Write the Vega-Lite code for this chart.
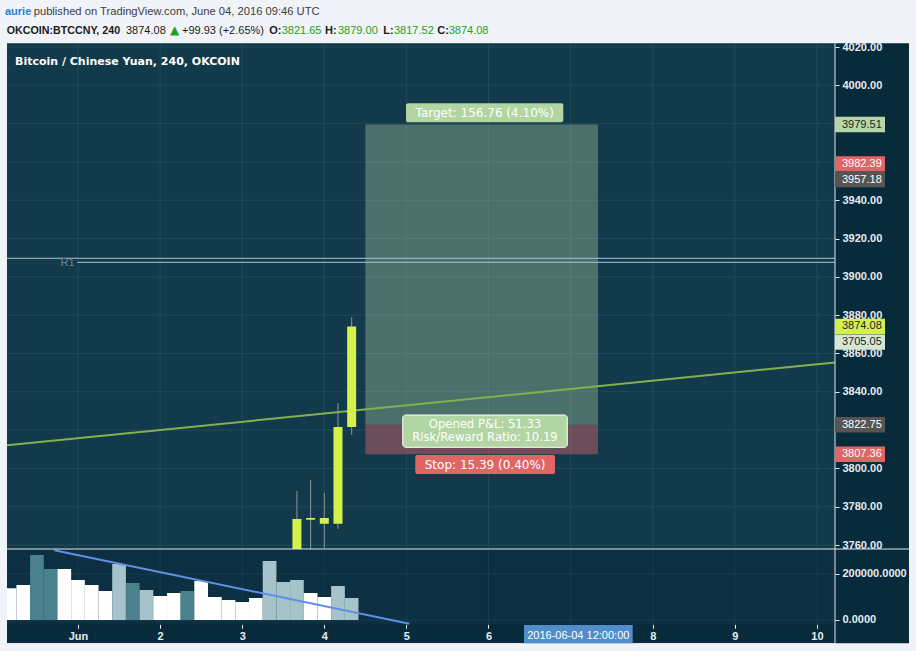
{
  "$schema": "https://vega.github.io/schema/vega-lite/v6.json",
  "width": 916,
  "height": 651,
  "padding": 0,
  "autosize": {"type": "none"},
  "background": "#f0f3f8",
  "config": {
    "view": {"stroke": null, "fill": "#082b3c"},
    "scale": {"continuousPadding": 0},
    "axis": {"titleOpacity": 0}
  },
  "datasets": {
    "candles": [
      {"t": 3.6667, "open": 3748.0, "high": 3788.2, "low": 3742.0, "close": 3773.6},
      {"t": 3.8333, "open": 3773.2, "high": 3794.0, "low": 3752.0, "close": 3774.1},
      {"t": 4.0, "open": 3774.1, "high": 3787.2, "low": 3758.6, "close": 3771.1},
      {"t": 4.1667, "open": 3771.1, "high": 3834.1, "low": 3768.4, "close": 3821.65},
      {"t": 4.3333, "open": 3821.65, "high": 3879.0, "low": 3817.52, "close": 3874.08}
    ],
    "volume": [
      {"t": 0.1667, "vol": 137700, "kind": "w"},
      {"t": 0.3333, "vol": 152200, "kind": "w"},
      {"t": 0.5, "vol": 282600, "kind": "d"},
      {"t": 0.6667, "vol": 221700, "kind": "d"},
      {"t": 0.8333, "vol": 221700, "kind": "w"},
      {"t": 1.0, "vol": 173900, "kind": "w"},
      {"t": 1.1667, "vol": 152200, "kind": "w"},
      {"t": 1.3333, "vol": 126100, "kind": "w"},
      {"t": 1.5, "vol": 243500, "kind": "l"},
      {"t": 1.6667, "vol": 160900, "kind": "d"},
      {"t": 1.8333, "vol": 130400, "kind": "l"},
      {"t": 2.0, "vol": 104300, "kind": "w"},
      {"t": 2.1667, "vol": 117400, "kind": "w"},
      {"t": 2.3333, "vol": 126100, "kind": "d"},
      {"t": 2.5, "vol": 169600, "kind": "w"},
      {"t": 2.6667, "vol": 100000, "kind": "w"},
      {"t": 2.8333, "vol": 87000, "kind": "w"},
      {"t": 3.0, "vol": 78300, "kind": "w"},
      {"t": 3.1667, "vol": 95700, "kind": "w"},
      {"t": 3.3333, "vol": 256500, "kind": "l"},
      {"t": 3.5, "vol": 165200, "kind": "l"},
      {"t": 3.6667, "vol": 173900, "kind": "l"},
      {"t": 3.8333, "vol": 117400, "kind": "w"},
      {"t": 4.0, "vol": 100000, "kind": "w"},
      {"t": 4.1667, "vol": 147800, "kind": "l"},
      {"t": 4.3333, "vol": 95700, "kind": "l"}
    ],
    "days": [{"d": 1}, {"d": 2}, {"d": 3}, {"d": 4}, {"d": 5}, {"d": 6}, {"d": 7}, {"d": 8}, {"d": 9}, {"d": 10}],
    "pgrid": [{"p": 3760}, {"p": 3780}, {"p": 3800}, {"p": 3820}, {"p": 3840}, {"p": 3860}, {"p": 3880}, {"p": 3900}, {"p": 3920}, {"p": 3940}, {"p": 3960}, {"p": 3980}, {"p": 4000}, {"p": 4020}],
    "vgrid": [{"v": 0}, {"v": 200000}],
    "position": [{"start": 4.5, "end": 7.3333, "entry": 3822.75, "target": 3979.51, "stop": 3807.36}],
    "pivots": [{"start": 0.1352, "level": 3909.7}, {"start": 0.9915, "level": 3907.6}],
    "trend": [{"t": 0.1352, "p": 3812.05}, {"t": 10.2205, "p": 3855.28}],
    "vtrend": [{"t": 0.7113, "v": 303043}, {"t": 5.0353, "v": -16087}],
    "tags": [
      {"price": 3979.51, "kind": "target", "label": "3979.51"},
      {"price": 3874.08, "kind": "last", "label": "3874.08"},
      {"price": 3822.75, "kind": "entry", "label": "3822.75"},
      {"price": 3807.36, "kind": "stop", "label": "3807.36"}
    ]
  },
  "resolve": {"scale": {"y": "independent"}, "axis": {"y": "independent"}},
  "layer": [
    {
      "layer": [
        {
          "data": {"values": [{}]},
          "mark": {"type": "rect", "fill": "#133a4a"},
          "encoding": {
            "x": {"datum": 0.1352, "type": "quantitative", "scale": {"domain": [0.04994, 11.2071], "nice": false, "zero": false, "padding": 0}},
            "x2": {"datum": 10.2205},
            "y": {"datum": 4021.93, "type": "quantitative", "scale": {"domain": [3704.66, 4044.54], "nice": false, "zero": false, "padding": 0}},
            "y2": {"datum": 3757.91}
          }
        },
        {
          "data": {"name": "pgrid"},
          "mark": {"type": "rule", "stroke": "#1f4a5b", "strokeWidth": 1},
          "encoding": {
            "x": {"datum": 0.1352, "type": "quantitative"},
            "x2": {"datum": 10.2205},
            "y": {"field": "p", "type": "quantitative", "scale": {"domain": [3704.66, 4044.54], "nice": false, "zero": false, "padding": 0},
              "axis": {"orient": "right", "offset": -81, "values": [3760, 3780, 3800, 3840, 3860, 3880, 3900, 3920, 3940, 3960, 3980, 4000, 4020], "format": ".2f", "title": null, "domain": false, "grid": false, "ticks": true, "tickSize": 4, "tickColor": "#e6ebee", "labelPadding": 3, "labelColor": "#e6ebee", "labelFont": "Liberation Sans", "labelFontSize": 11, "labelFontWeight": "bold", "labelOverlap": false, "labelFlush": false, "labelBound": false}}
          }
        },
        {
          "data": {"name": "days"},
          "mark": {"type": "rule", "stroke": "#1f4a5b", "strokeWidth": 1},
          "encoding": {
            "x": {"field": "d", "type": "quantitative"},
            "y": {"datum": 4021.93, "type": "quantitative"},
            "y2": {"datum": 3757.91}
          }
        },
        {
          "data": {"name": "position"},
          "mark": {"type": "rect", "fill": "#9fc49d", "opacity": 0.4},
          "encoding": {
            "x": {"field": "start", "type": "quantitative"},
            "x2": {"field": "end"},
            "y": {"field": "entry", "type": "quantitative"},
            "y2": {"field": "target"}
          }
        },
        {
          "data": {"name": "position"},
          "mark": {"type": "rect", "fill": "#ef6a70", "opacity": 0.4},
          "encoding": {
            "x": {"field": "start", "type": "quantitative"},
            "x2": {"field": "end"},
            "y": {"field": "stop", "type": "quantitative"},
            "y2": {"field": "entry"}
          }
        },
        {
          "data": {"name": "pivots"},
          "mark": {"type": "rule", "stroke": "#a9c8da", "strokeWidth": 1},
          "encoding": {
            "x": {"field": "start", "type": "quantitative"},
            "x2": {"datum": 10.2205},
            "y": {"field": "level", "type": "quantitative"}
          }
        },
        {
          "data": {"values": [{"label": "R1"}]},
          "mark": {"type": "text", "font": "Liberation Sans", "fontSize": 11, "fill": "#6c8797", "align": "right", "baseline": "middle"},
          "encoding": {
            "x": {"datum": 0.9574, "type": "quantitative"},
            "y": {"datum": 3907.0, "type": "quantitative"},
            "text": {"field": "label"}
          }
        },
        {
          "data": {"name": "trend"},
          "mark": {"type": "line", "stroke": "#7fb24e", "strokeWidth": 2},
          "encoding": {
            "x": {"field": "t", "type": "quantitative"},
            "y": {"field": "p", "type": "quantitative"}
          }
        },
        {
          "data": {"name": "candles"},
          "mark": {"type": "rule", "stroke": "#8a959b", "strokeWidth": 1},
          "encoding": {
            "x": {"field": "t", "type": "quantitative"},
            "y": {"field": "low", "type": "quantitative"},
            "y2": {"field": "high"}
          }
        },
        {
          "data": {"name": "candles"},
          "mark": {"type": "bar", "fill": "#d6f04b", "size": 9, "orient": "vertical"},
          "encoding": {
            "x": {"field": "t", "type": "quantitative"},
            "y": {"field": "open", "type": "quantitative", "stack": null},
            "y2": {"field": "close"}
          }
        },
        {
          "data": {"values": [{"label": "Bitcoin / Chinese Yuan, 240, OKCOIN"}]},
          "mark": {"type": "text", "font": "DejaVu Sans", "fontWeight": "bold", "fontSize": 11, "fill": "#ffffff", "align": "left", "baseline": "alphabetic"},
          "encoding": {
            "x": {"datum": 0.2327, "type": "quantitative"},
            "y": {"datum": 4010.76, "type": "quantitative"},
            "text": {"field": "label"}
          }
        }
      ]
    },
    {
      "layer": [
        {
          "data": {"values": [{}]},
          "mark": {"type": "rect", "fill": "#0c2f41"},
          "encoding": {
            "x": {"datum": 0.1352, "type": "quantitative", "scale": {"domain": [0.04994, 11.2071], "nice": false, "zero": false, "padding": 0}},
            "x2": {"datum": 10.2205},
            "y": {"datum": 308696, "type": "quantitative", "scale": {"domain": [-134783, 2695652], "nice": false, "zero": false, "padding": 0}},
            "y2": {"datum": -18696}
          }
        },
        {
          "data": {"name": "vgrid"},
          "mark": {"type": "rule", "stroke": "#163e4f", "strokeWidth": 1},
          "encoding": {
            "x": {"datum": 0.1352, "type": "quantitative"},
            "x2": {"datum": 10.2205},
            "y": {"field": "v", "type": "quantitative", "scale": {"domain": [-134783, 2695652], "nice": false, "zero": false, "padding": 0},
              "axis": {"orient": "right", "offset": -81, "values": [0, 200000], "format": ".4f", "title": null, "domain": false, "grid": false, "ticks": true, "tickSize": 4, "tickColor": "#e6ebee", "labelPadding": 3, "labelColor": "#e6ebee", "labelFont": "Liberation Sans", "labelFontSize": 11, "labelFontWeight": "bold", "labelOverlap": false, "labelFlush": false, "labelBound": false}}
          }
        },
        {
          "data": {"name": "days"},
          "mark": {"type": "rule", "stroke": "#163e4f", "strokeWidth": 1},
          "encoding": {
            "x": {"field": "d", "type": "quantitative", "scale": {"domain": [0.04994, 11.2071], "nice": false, "zero": false, "padding": 0},
              "axis": {"orient": "bottom", "offset": -26.7, "values": [1, 2, 3, 4, 5, 6, 8, 9, 10], "format": "d", "labelExpr": "datum.value == 1 ? 'Jun' : datum.label", "title": null, "domain": false, "grid": false, "ticks": true, "tickSize": 4, "tickColor": "#e6ebee", "labelPadding": 2, "labelColor": "#e6ebee", "labelFont": "Liberation Sans", "labelFontSize": 11, "labelFontWeight": "bold", "labelOverlap": false, "labelFlush": false, "labelBound": false}},
            "y": {"datum": 308696, "type": "quantitative"},
            "y2": {"datum": -18696}
          }
        },
        {
          "data": {"name": "volume"},
          "mark": {"type": "bar", "size": 13.7, "orient": "vertical"},
          "encoding": {
            "x": {"field": "t", "type": "quantitative"},
            "y": {"field": "vol", "type": "quantitative", "stack": null},
            "y2": {"datum": 0},
            "color": {"field": "kind", "type": "nominal", "scale": {"domain": ["w", "d", "l"], "range": ["#ffffff", "#4a818d", "#a5c3c8"]}, "legend": null}
          }
        },
        {
          "data": {"name": "vtrend"},
          "mark": {"type": "line", "stroke": "#5f8fe8", "strokeWidth": 2},
          "encoding": {
            "x": {"field": "t", "type": "quantitative"},
            "y": {"field": "v", "type": "quantitative"}
          }
        }
      ]
    },
    {
      "layer": [
        {
          "data": {"values": [{}]},
          "mark": {"type": "rect", "fill": "#f0f3f8"},
          "encoding": {
            "x": {"datum": 0.04994, "type": "quantitative", "scale": {"domain": [0.04994, 11.2071], "nice": false, "zero": false, "padding": 0}},
            "x2": {"datum": 11.2071},
            "y": {"datum": 4044.54, "type": "quantitative", "scale": {"domain": [3704.66, 4044.54], "nice": false, "zero": false, "padding": 0}, "axis": null},
            "y2": {"datum": 4021.93}
          }
        },
        {
          "data": {"values": [{}]},
          "mark": {"type": "rect", "fill": "#f0f3f8"},
          "encoding": {
            "x": {"datum": 0.04994, "type": "quantitative"},
            "x2": {"datum": 11.2071},
            "y": {"datum": 3708.68, "type": "quantitative", "axis": null},
            "y2": {"datum": 3704.66}
          }
        },
        {
          "data": {"values": [{}]},
          "mark": {"type": "rect", "fill": "#f0f3f8"},
          "encoding": {
            "x": {"datum": 0.04994, "type": "quantitative"},
            "x2": {"datum": 0.1352},
            "y": {"datum": 4044.54, "type": "quantitative", "axis": null},
            "y2": {"datum": 3704.66}
          }
        },
        {
          "data": {"values": [{}]},
          "mark": {"type": "rect", "fill": "#f0f3f8"},
          "encoding": {
            "x": {"datum": 11.1218, "type": "quantitative"},
            "x2": {"datum": 11.2071},
            "y": {"datum": 4044.54, "type": "quantitative", "axis": null},
            "y2": {"datum": 3704.66}
          }
        },
        {
          "data": {"values": [{}]},
          "mark": {"type": "rule", "stroke": "#dfe5ea", "strokeWidth": 1},
          "encoding": {
            "x": {"datum": 0.1352, "type": "quantitative"},
            "x2": {"datum": 11.1218},
            "y": {"datum": 3757.91, "type": "quantitative", "axis": null}
          }
        },
        {
          "data": {"values": [{}]},
          "mark": {"type": "rule", "stroke": "#dfe5ea", "strokeWidth": 1},
          "encoding": {
            "x": {"datum": 0.1352, "type": "quantitative"},
            "x2": {"datum": 10.2205},
            "y": {"datum": 3708.59, "type": "quantitative", "axis": null}
          }
        },
        {
          "data": {"values": [{}]},
          "mark": {"type": "rule", "stroke": "#dfe5ea", "strokeWidth": 1},
          "encoding": {
            "x": {"datum": 10.2205, "type": "quantitative"},
            "y": {"datum": 4021.93, "type": "quantitative", "axis": null},
            "y2": {"datum": 3708.59}
          }
        },
        {
          "data": {"values": [{"label": "aurie"}]},
          "mark": {"type": "text", "font": "Liberation Sans", "fontSize": 11, "fontWeight": "bold", "fill": "#1f7fd1", "align": "left", "baseline": "alphabetic"},
          "encoding": {"x": {"datum": 0.1108, "type": "quantitative"}, "y": {"datum": 4036.55, "type": "quantitative", "axis": null}, "text": {"field": "label"}}
        },
        {
          "data": {"values": [{"label": "published on TradingView.com, June 04, 2016 09:46 UTC"}]},
          "mark": {"type": "text", "font": "Liberation Sans", "fontSize": 11.2, "fill": "#3c3c3c", "align": "left", "baseline": "alphabetic"},
          "encoding": {"x": {"datum": 0.4604, "type": "quantitative"}, "y": {"datum": 4036.55, "type": "quantitative", "axis": null}, "text": {"field": "label"}}
        },
        {
          "data": {"values": [{"label": "OKCOIN:BTCCNY, 240"}]},
          "mark": {"type": "text", "font": "Liberation Sans", "fontSize": 10.7, "fontWeight": "bold", "fill": "#1b1b1b", "align": "left", "baseline": "alphabetic"},
          "encoding": {"x": {"datum": 0.1316, "type": "quantitative"}, "y": {"datum": 4026.79, "type": "quantitative", "axis": null}, "text": {"field": "label"}}
        },
        {
          "data": {"values": [{"label": "3874.08"}]},
          "mark": {"type": "text", "font": "Liberation Sans", "fontSize": 11, "fill": "#1b1b1b", "align": "left", "baseline": "alphabetic"},
          "encoding": {"x": {"datum": 1.5847, "type": "quantitative"}, "y": {"datum": 4026.79, "type": "quantitative", "axis": null}, "text": {"field": "label"}}
        },
        {
          "data": {"values": [{"label": "▲"}]},
          "mark": {"type": "text", "font": "DejaVu Sans", "fontSize": 12, "fill": "#22a022", "align": "left", "baseline": "alphabetic"},
          "encoding": {"x": {"datum": 2.1206, "type": "quantitative"}, "y": {"datum": 4026.79, "type": "quantitative", "axis": null}, "text": {"field": "label"}}
        },
        {
          "data": {"values": [{"label": "+99.93 (+2.65%)"}]},
          "mark": {"type": "text", "font": "Liberation Sans", "fontSize": 11, "fill": "#1b1b1b", "align": "left", "baseline": "alphabetic"},
          "encoding": {"x": {"datum": 2.2667, "type": "quantitative"}, "y": {"datum": 4026.79, "type": "quantitative", "axis": null}, "text": {"field": "label"}}
        },
        {
          "data": {"values": [{"label": "O:"}]},
          "mark": {"type": "text", "font": "Liberation Sans", "fontSize": 11, "fontWeight": "bold", "fill": "#1b1b1b", "align": "left", "baseline": "alphabetic"},
          "encoding": {"x": {"datum": 3.3301, "type": "quantitative"}, "y": {"datum": 4026.79, "type": "quantitative", "axis": null}, "text": {"field": "label"}}
        },
        {
          "data": {"values": [{"label": "3821.65"}]},
          "mark": {"type": "text", "font": "Liberation Sans", "fontSize": 11, "fill": "#22a022", "align": "left", "baseline": "alphabetic"},
          "encoding": {"x": {"datum": 3.4811, "type": "quantitative"}, "y": {"datum": 4026.79, "type": "quantitative", "axis": null}, "text": {"field": "label"}}
        },
        {
          "data": {"values": [{"label": "H:"}]},
          "mark": {"type": "text", "font": "Liberation Sans", "fontSize": 11, "fontWeight": "bold", "fill": "#1b1b1b", "align": "left", "baseline": "alphabetic"},
          "encoding": {"x": {"datum": 4.0085, "type": "quantitative"}, "y": {"datum": 4026.79, "type": "quantitative", "axis": null}, "text": {"field": "label"}}
        },
        {
          "data": {"values": [{"label": "3879.00"}]},
          "mark": {"type": "text", "font": "Liberation Sans", "fontSize": 11, "fill": "#22a022", "align": "left", "baseline": "alphabetic"},
          "encoding": {"x": {"datum": 4.1669, "type": "quantitative"}, "y": {"datum": 4026.79, "type": "quantitative", "axis": null}, "text": {"field": "label"}}
        },
        {
          "data": {"values": [{"label": "L:"}]},
          "mark": {"type": "text", "font": "Liberation Sans", "fontSize": 11, "fontWeight": "bold", "fill": "#1b1b1b", "align": "left", "baseline": "alphabetic"},
          "encoding": {"x": {"datum": 4.7186, "type": "quantitative"}, "y": {"datum": 4026.79, "type": "quantitative", "axis": null}, "text": {"field": "label"}}
        },
        {
          "data": {"values": [{"label": "3817.52"}]},
          "mark": {"type": "text", "font": "Liberation Sans", "fontSize": 11, "fill": "#22a022", "align": "left", "baseline": "alphabetic"},
          "encoding": {"x": {"datum": 4.849, "type": "quantitative"}, "y": {"datum": 4026.79, "type": "quantitative", "axis": null}, "text": {"field": "label"}}
        },
        {
          "data": {"values": [{"label": "C:"}]},
          "mark": {"type": "text", "font": "Liberation Sans", "fontSize": 11, "fontWeight": "bold", "fill": "#1b1b1b", "align": "left", "baseline": "alphabetic"},
          "encoding": {"x": {"datum": 5.3764, "type": "quantitative"}, "y": {"datum": 4026.79, "type": "quantitative", "axis": null}, "text": {"field": "label"}}
        },
        {
          "data": {"values": [{"label": "3874.08"}]},
          "mark": {"type": "text", "font": "Liberation Sans", "fontSize": 11, "fill": "#22a022", "align": "left", "baseline": "alphabetic"},
          "encoding": {"x": {"datum": 5.5152, "type": "quantitative"}, "y": {"datum": 4026.79, "type": "quantitative", "axis": null}, "text": {"field": "label"}}
        },
        {
          "data": {"values": [{}]},
          "mark": {"type": "rect", "fill": "#b2d5a4", "cornerRadius": 2},
          "encoding": {"x": {"datum": 4.9951, "type": "quantitative"}, "x2": {"datum": 6.9111}, "y": {"datum": 3990.6, "type": "quantitative", "axis": null}, "y2": {"datum": 3980.68}}
        },
        {
          "data": {"values": [{"label": "Target: 156.76 (4.10%)"}]},
          "mark": {"type": "text", "font": "DejaVu Sans", "fontSize": 12, "fill": "#ffffff", "align": "center", "baseline": "middle"},
          "encoding": {"x": {"datum": 5.954, "type": "quantitative"}, "y": {"datum": 3985.6, "type": "quantitative", "axis": null}, "text": {"field": "label"}}
        },
        {
          "data": {"values": [{}]},
          "mark": {"type": "rect", "fill": "#b2d5a4", "stroke": "#ffffff", "strokeWidth": 1, "cornerRadius": 3},
          "encoding": {"x": {"datum": 4.955, "type": "quantitative"}, "x2": {"datum": 6.96}, "y": {"datum": 3827.87, "type": "quantitative", "axis": null}, "y2": {"datum": 3811.0}}
        },
        {
          "data": {"values": [{"label": "Opened P&L: 51.33"}]},
          "mark": {"type": "text", "font": "DejaVu Sans", "fontSize": 11.6, "fill": "#ffffff", "align": "center", "baseline": "middle"},
          "encoding": {"x": {"datum": 5.957, "type": "quantitative"}, "y": {"datum": 3822.75, "type": "quantitative", "axis": null}, "text": {"field": "label"}}
        },
        {
          "data": {"values": [{"label": "Risk/Reward Ratio: 10.19"}]},
          "mark": {"type": "text", "font": "DejaVu Sans", "fontSize": 11.6, "fill": "#ffffff", "align": "center", "baseline": "middle"},
          "encoding": {"x": {"datum": 5.957, "type": "quantitative"}, "y": {"datum": 3816.1, "type": "quantitative", "axis": null}, "text": {"field": "label"}}
        },
        {
          "data": {"values": [{}]},
          "mark": {"type": "rect", "fill": "#e06666", "cornerRadius": 2},
          "encoding": {"x": {"datum": 5.108, "type": "quantitative"}, "x2": {"datum": 6.81}, "y": {"datum": 3806.99, "type": "quantitative", "axis": null}, "y2": {"datum": 3797.07}}
        },
        {
          "data": {"values": [{"label": "Stop: 15.39 (0.40%)"}]},
          "mark": {"type": "text", "font": "DejaVu Sans", "fontSize": 12, "fill": "#ffffff", "align": "center", "baseline": "middle"},
          "encoding": {"x": {"datum": 5.959, "type": "quantitative"}, "y": {"datum": 3802.0, "type": "quantitative", "axis": null}, "text": {"field": "label"}}
        },
        {
          "data": {"name": "tags"},
          "mark": {"type": "rect", "yOffset": -7.7, "y2Offset": 7.7},
          "encoding": {
            "x": {"datum": 10.2205, "type": "quantitative"},
            "x2": {"datum": 10.8295},
            "y": {"field": "price", "type": "quantitative", "axis": null},
            "y2": {"field": "price"},
            "fill": {"field": "kind", "type": "nominal", "scale": {"domain": ["target", "last", "entry", "stop"], "range": ["#b5d6a7", "#d6f04b", "#555555", "#e06666"]}, "legend": null}
          }
        },
        {
          "data": {"name": "tags"},
          "mark": {"type": "text", "font": "Liberation Sans", "fontSize": 11, "align": "left", "baseline": "middle"},
          "encoding": {
            "x": {"datum": 10.3058, "type": "quantitative"},
            "y": {"field": "price", "type": "quantitative", "axis": null},
            "text": {"field": "label"},
            "color": {"condition": {"test": "datum.kind == 'target' || datum.kind == 'last'", "value": "#1b1f2a"}, "value": "#ffffff"}
          }
        },
        {
          "data": {"values": [{}]},
          "mark": {"type": "rect", "fill": "#e06666"},
          "encoding": {"x": {"datum": 10.2205, "type": "quantitative"}, "x2": {"datum": 10.8295}, "y": {"datum": 3963.0, "type": "quantitative", "axis": null}, "y2": {"datum": 3954.95}}
        },
        {
          "data": {"values": [{"label": "3982.39"}]},
          "mark": {"type": "text", "font": "Liberation Sans", "fontSize": 11, "fill": "#ffffff", "align": "left", "baseline": "middle"},
          "encoding": {"x": {"datum": 10.3058, "type": "quantitative"}, "y": {"datum": 3958.99, "type": "quantitative", "axis": null}, "text": {"field": "label"}}
        },
        {
          "data": {"values": [{}]},
          "mark": {"type": "rect", "fill": "#555555"},
          "encoding": {"x": {"datum": 10.2205, "type": "quantitative"}, "x2": {"datum": 10.8295}, "y": {"datum": 3954.95, "type": "quantitative", "axis": null}, "y2": {"datum": 3946.8}}
        },
        {
          "data": {"values": [{"label": "3957.18"}]},
          "mark": {"type": "text", "font": "Liberation Sans", "fontSize": 11, "fill": "#ffffff", "align": "left", "baseline": "middle"},
          "encoding": {"x": {"datum": 10.3058, "type": "quantitative"}, "y": {"datum": 3950.82, "type": "quantitative", "axis": null}, "text": {"field": "label"}}
        },
        {
          "data": {"values": [{}]},
          "mark": {"type": "rect", "fill": "#d5e7d0"},
          "encoding": {"x": {"datum": 10.2205, "type": "quantitative"}, "x2": {"datum": 10.8295}, "y": {"datum": 3869.9, "type": "quantitative", "axis": null}, "y2": {"datum": 3861.9}}
        },
        {
          "data": {"values": [{"label": "3705.05"}]},
          "mark": {"type": "text", "font": "Liberation Sans", "fontSize": 11, "fill": "#1b1f2a", "align": "left", "baseline": "middle"},
          "encoding": {"x": {"datum": 10.3058, "type": "quantitative"}, "y": {"datum": 3865.9, "type": "quantitative", "axis": null}, "text": {"field": "label"}}
        },
        {
          "data": {"values": [{}]},
          "mark": {"type": "rect", "fill": "#4f8ecb"},
          "encoding": {"x": {"datum": 6.4324, "type": "quantitative"}, "x2": {"datum": 7.7564}, "y": {"datum": 3718.23, "type": "quantitative", "axis": null}, "y2": {"datum": 3708.68}}
        },
        {
          "data": {"values": [{"label": "2016-06-04 12:00:00"}]},
          "mark": {"type": "text", "font": "Liberation Sans", "fontSize": 11, "fill": "#ffffff", "align": "center", "baseline": "middle"},
          "encoding": {"x": {"datum": 7.0938, "type": "quantitative"}, "y": {"datum": 3712.6, "type": "quantitative", "axis": null}, "text": {"field": "label"}}
        }
      ]
    }
  ]
}
